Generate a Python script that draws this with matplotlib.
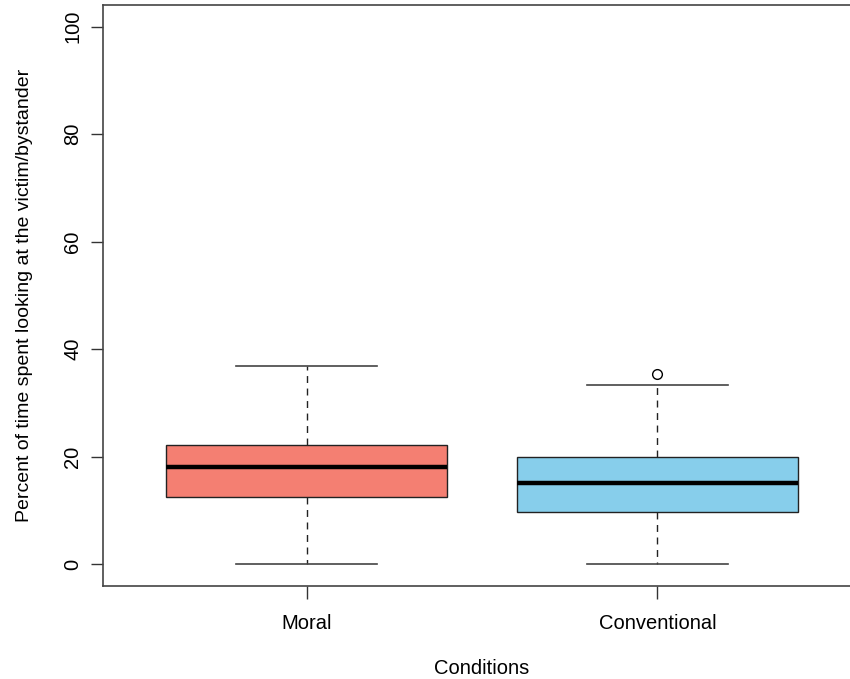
import matplotlib
matplotlib.use("Agg")
import matplotlib.pyplot as plt

# ==== DATA ====
conditions = ["Moral", "Conventional"]
whisker_low = [0.0, 0.0]
q1 = [12.6, 9.7]
median = [18.1, 15.2]
q3 = [22.3, 19.9]
whisker_high = [36.9, 33.3]
outliers = [[], [35.5]]
colors = ["#F47F72", "#87CEEB"]

plt.rcParams["font.family"] = ["Liberation Sans", "DejaVu Sans"]

fig = plt.figure(figsize=(8.5, 6.79), dpi=100)
# right edge of the plot box runs past the image, like the cropped original
ax = fig.add_axes([103 / 850, 1 - 586 / 679, (861 - 103) / 850, (586 - 5) / 679])

stats = []
for i, name in enumerate(conditions):
    stats.append(dict(label=name, whislo=whisker_low[i], q1=q1[i], med=median[i],
                      q3=q3[i], whishi=whisker_high[i], fliers=outliers[i]))

bp = ax.bxp(stats, positions=[1, 2], widths=0.8, patch_artist=True,
            showfliers=True,
            boxprops=dict(edgecolor="#222222", linewidth=1.0),
            medianprops=dict(color="black", linewidth=3.2),
            whiskerprops=dict(color="#222222", linewidth=1.0, linestyle=(0, (5, 4))),
            capprops=dict(color="#444444", linewidth=1.2),
            flierprops=dict(marker="o", markerfacecolor="none", markeredgecolor="black",
                            markersize=7, markeredgewidth=1.0))
for patch, c in zip(bp["boxes"], colors):
    patch.set_facecolor(c)
for cap in bp["caps"]:
    x0, x1 = cap.get_xdata()
    mid = (x0 + x1) / 2
    cap.set_xdata([mid - 0.2, mid + 0.2])

ax.set_xlim(0.42, 2.58)
ax.set_ylim(-4, 104)
ax.set_yticks([0, 20, 40, 60, 80, 100])
ax.set_xticks([1, 2])
ax.set_xticklabels(conditions)
ax.tick_params(axis="both", direction="out", length=9, width=1.0, color="#333333",
               labelsize=14.5)
ax.tick_params(axis="y", pad=6)
ax.tick_params(axis="x", pad=11)
for lbl in ax.get_yticklabels():
    lbl.set_rotation(90)
    lbl.set_va("center")

for sp in ax.spines.values():
    sp.set_color("#444444")
    sp.set_linewidth(1.2)

ax.set_xlabel("Conditions", fontsize=14.5, labelpad=19)
ax.set_ylabel("Percent of time spent looking at the victim/bystander", fontsize=14,
              labelpad=22)

fig.savefig("out.png", dpi=100)
